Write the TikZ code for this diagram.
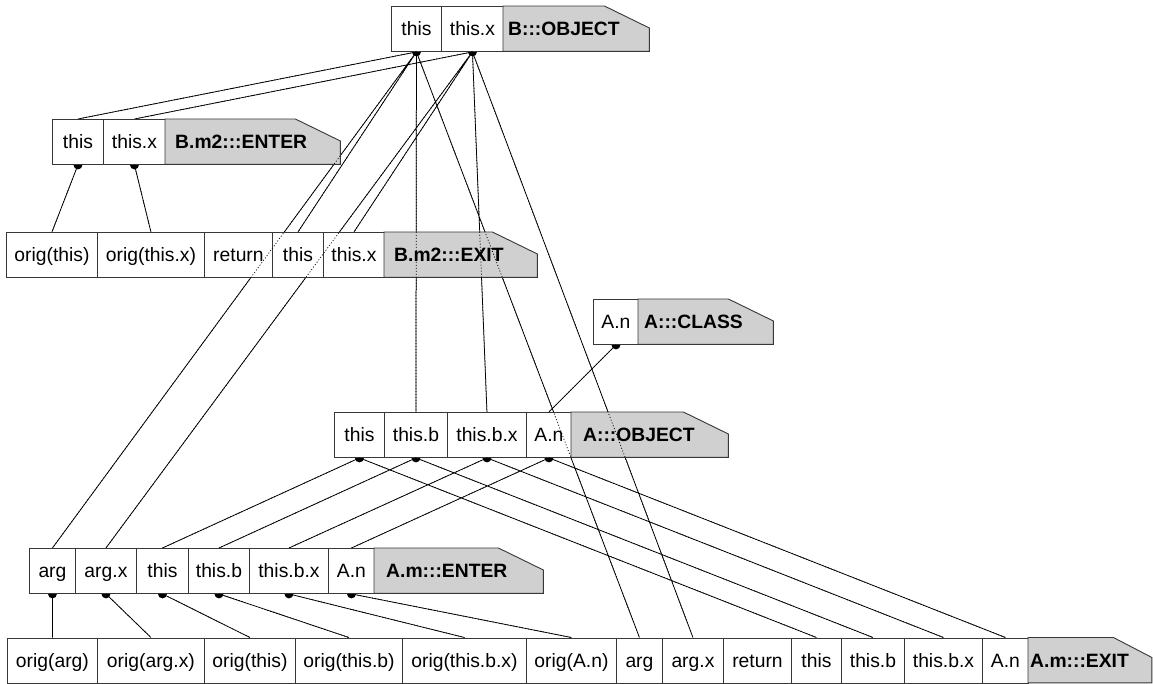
\documentclass[tikz,border=0pt]{standalone}
\usepackage{fontspec}
\setmainfont{Liberation Sans}
\usetikzlibrary{calc}
\pgfdeclarelayer{bg}
\pgfdeclarelayer{fg}
\pgfsetlayers{bg,main,fg}

\definecolor{labelgray}{RGB}{208,208,208}
\definecolor{edgegray}{RGB}{55,55,55}

\tikzset{
  cell/.style={rectangle, draw=edgegray, line width=0.9pt, fill=white,
    anchor=north west, inner sep=0pt, minimum height=45pt,
    text height=13.6pt, text depth=0pt, font=\fontsize{19.3}{23}\selectfont},
  tagbox/.style={rectangle, anchor=north west, inner sep=0pt, minimum height=45pt},
  tagtext/.style={anchor=west, inner sep=0pt, text height=13.6pt, text depth=0pt,
    font=\fontsize{19.3}{23}\selectfont\bfseries},
  tagshape/.style={fill=labelgray, draw=edgegray, line width=0.9pt, line join=miter},
  wire/.style={line width=0.75pt, black},
  wirethru/.style={line width=0.75pt, black, dash pattern=on 1pt off 2pt},
}

% gray program-point label: name, x, y, width, text pad, chamfer dx, chamfer dy, text
\newcommand\pptlabel[8]{%
  \node[tagbox, minimum width=#4] (#1) at (#2,#3) {};
  \path[tagshape] (#1.south west) -- (#1.north west) -- ($(#1.north east)+(-#6,0)$)
    -- ($(#1.north east)+(0,#7)$) -- (#1.south east) -- cycle;
  \node[tagtext] (#1-t) at ($(#1.west)+(#5,0)$) {#8};
}

% all variable-to-variable connectors, drawn with the given style
\newcommand\allwires[1]{%
  \draw[#1] (bo-this.south) -- (be-this.north)
            (bo-this.south) -- (bx-this.north)
            (bo-this.south) -- (ae-arg.north)
            (bo-this.south) -- (ao-thisb.north)
            (bo-this.south) -- (ax-arg.north)
            (bo-thisx.south) -- (be-thisx.north)
            (bo-thisx.south) -- (bx-thisx.north)
            (bo-thisx.south) -- (ae-argx.north)
            (bo-thisx.south) -- (ao-thisbx.north)
            (bo-thisx.south) -- (ax-argx.north)
            (be-this.south) -- (bx-othis.north)
            (be-thisx.south) -- (bx-othisx.north)
            (ac-An.south) -- (ao-An.north)
            (ao-this.south) -- (ae-this.north)
            (ao-this.south) -- (ax-this.north)
            (ao-thisb.south) -- (ae-thisb.north)
            (ao-thisb.south) -- (ax-thisb.north)
            (ao-thisbx.south) -- (ae-thisbx.north)
            (ao-thisbx.south) -- (ax-thisbx.north)
            (ao-An.south) -- (ae-An.north)
            (ao-An.south) -- (ax-An.north)
            (ae-arg.south) -- (ax-oarg.north)
            (ae-argx.south) -- (ax-oargx.north)
            (ae-this.south) -- (ax-othis.north)
            (ae-thisb.south) -- (ax-othisb.north)
            (ae-thisbx.south) -- (ax-othisbx.north)
            (ae-An.south) -- (ax-oAn.north);
}

\begin{document}
\begin{tikzpicture}[x=1pt, y=-1pt]
\useasboundingbox (0,0) rectangle (1153,683);
\begin{pgfonlayer}{bg}
  \fill[white] (0,0) rectangle (1153,683);
\end{pgfonlayer}

% B:::OBJECT
\node[cell, minimum width=50] (bo-this)  at (391,6) {this};
\node[cell, minimum width=62] (bo-thisx) at (441,6) {this.x};
\pptlabel{bo-lab}{503}{6}{146}{5}{45}{22}{B:::OBJECT}

% B.m2:::ENTER
\node[cell, minimum width=51] (be-this)  at (52,119) {this};
\node[cell, minimum width=62] (be-thisx) at (103,119) {this.x};
\pptlabel{be-lab}{165}{119}{175}{10}{45}{22}{B.m2:::ENTER}

% B.m2:::EXIT
\node[cell, minimum width=91]  (bx-othis)  at (6,232)   {orig(this)};
\node[cell, minimum width=107] (bx-othisx) at (97,232)  {orig(this.x)};
\node[cell, minimum width=68]  (bx-ret)    at (204,232) {return};
\node[cell, minimum width=51]  (bx-this)   at (272,232) {this};
\node[cell, minimum width=61]  (bx-thisx)  at (323,232) {this.x};
\pptlabel{bx-lab}{384}{232}{153}{10}{45}{22}{B.m2:::EXIT}

% A:::CLASS
\node[cell, minimum width=45] (ac-An) at (593,299) {A.n};
\pptlabel{ac-lab}{638}{299}{135}{6}{45}{22}{A:::CLASS}

% A:::OBJECT
\node[cell, minimum width=50] (ao-this)   at (334,412) {this};
\node[cell, minimum width=63] (ao-thisb)  at (384,412) {this.b};
\node[cell, minimum width=79] (ao-thisbx) at (447,412) {this.b.x};
\node[cell, minimum width=45] (ao-An)     at (526,412) {A.n};
\pptlabel{ao-lab}{571}{412}{157}{12}{45}{22}{A:::OBJECT}

% A.m:::ENTER
\node[cell, minimum width=46] (ae-arg)    at (29,548)  {arg};
\node[cell, minimum width=61] (ae-argx)   at (75,548)  {arg.x};
\node[cell, minimum width=52] (ae-this)   at (136,548) {this};
\node[cell, minimum width=61] (ae-thisb)  at (188,548) {this.b};
\node[cell, minimum width=79] (ae-thisbx) at (249,548) {this.b.x};
\node[cell, minimum width=46] (ae-An)     at (328,548) {A.n};
\pptlabel{ae-lab}{374}{548}{169}{12}{45}{22}{A.m:::ENTER}

% A.m:::EXIT
\node[cell, minimum width=90]  (ax-oarg)    at (7,637.5)    {orig(arg)};
\node[cell, minimum width=107] (ax-oargx)   at (97,637.5)   {orig(arg.x)};
\node[cell, minimum width=91]  (ax-othis)   at (204,637.5)  {orig(this)};
\node[cell, minimum width=107] (ax-othisb)  at (295,637.5)  {orig(this.b)};
\node[cell, minimum width=124] (ax-othisbx) at (402,637.5)  {orig(this.b.x)};
\node[cell, minimum width=90]  (ax-oAn)     at (526,637.5)  {orig(A.n)};
\node[cell, minimum width=46]  (ax-arg)     at (616,637.5)  {arg};
\node[cell, minimum width=61]  (ax-argx)    at (662,637.5)  {arg.x};
\node[cell, minimum width=68]  (ax-ret)     at (723,637.5)  {return};
\node[cell, minimum width=50]  (ax-this)    at (791,637.5)  {this};
\node[cell, minimum width=63]  (ax-thisb)   at (841,637.5)  {this.b};
\node[cell, minimum width=78]  (ax-thisbx)  at (904,637.5)  {this.b.x};
\node[cell, minimum width=46]  (ax-An)      at (982,637.5)  {A.n};
\pptlabel{ax-lab}{1028}{637.5}{123.5}{2}{38.5}{20}{A.m:::EXIT}

% connectors behind the boxes, with their source pins
\begin{pgfonlayer}{bg}
  \allwires{wire}
  \foreach \n in {bo-this, bo-thisx, be-this, be-thisx, ac-An,
                  ao-this, ao-thisb, ao-thisbx, ao-An,
                  ae-arg, ae-argx, ae-this, ae-thisb, ae-thisbx, ae-An}
    \fill (\n.south) circle (4.5pt);
\end{pgfonlayer}

% connectors seen through the boxes
\begin{pgfonlayer}{fg}
  \allwires{wirethru}
\end{pgfonlayer}
\end{tikzpicture}
\end{document}
